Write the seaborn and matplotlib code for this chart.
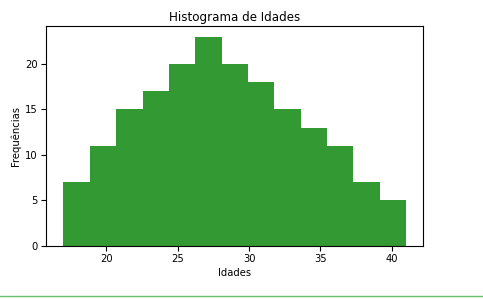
import numpy as np
import pandas as pd
import matplotlib
matplotlib.use("Agg")
import matplotlib.pyplot as plt
import seaborn as sns
from matplotlib.lines import Line2D

# Histogram data
age_min, age_max = 17, 41                    # 13 equal bins from 17 to 41
counts = [7, 11, 15, 17, 20, 23, 20, 18, 15, 13, 11, 7, 5]
title = "Histograma de Idades"
xlabel = "Idades"
ylabel = "Frequências"

n_bins = len(counts)
bin_edges = np.linspace(age_min, age_max, n_bins + 1)
centers = (bin_edges[:-1] + bin_edges[1:]) / 2
df = pd.DataFrame({"idade": centers, "freq": counts})

sns.set_style("ticks")
plt.rcParams["font.family"] = ["DejaVu Sans"]
plt.rcParams["text.color"] = "black"
plt.rcParams["axes.labelcolor"] = "black"
plt.rcParams["xtick.color"] = "black"
plt.rcParams["ytick.color"] = "black"

W, H = 483, 299
fig = plt.figure(figsize=(W / 100, H / 100), dpi=100)
ax = fig.add_axes([46.3 / W, 1 - 245.7 / H, (423.3 - 46.3) / W, (245.7 - 26.3) / H])

sns.histplot(data=df, x="idade", weights="freq", bins=n_bins,
             binrange=(age_min, age_max),
             color="green", alpha=0.8, edgecolor="none", linewidth=0, ax=ax)

ax.set_title(title, fontsize=8.6, pad=4, color="black")
ax.set_xlabel(xlabel, fontsize=7.2, labelpad=3)
ax.set_ylabel(ylabel, fontsize=7.2, labelpad=3)
ax.tick_params(labelsize=7.2, length=3.5, width=0.8, pad=2.5, color="black",
               labelcolor="black")
ax.set_xticks([20, 25, 30, 35, 40])
ax.set_yticks([0, 5, 10, 15, 20])
for s in ax.spines.values():
    s.set_visible(True)
    s.set_linewidth(0.8)
    s.set_color("black")

# page border line at bottom of screenshot
fig.add_artist(Line2D([0, 1], [1 - 295.5 / H, 1 - 295.5 / H], transform=fig.transFigure,
                      color="#6abf69", linewidth=1.0))

fig.savefig("out.png", dpi=100, facecolor="white")
